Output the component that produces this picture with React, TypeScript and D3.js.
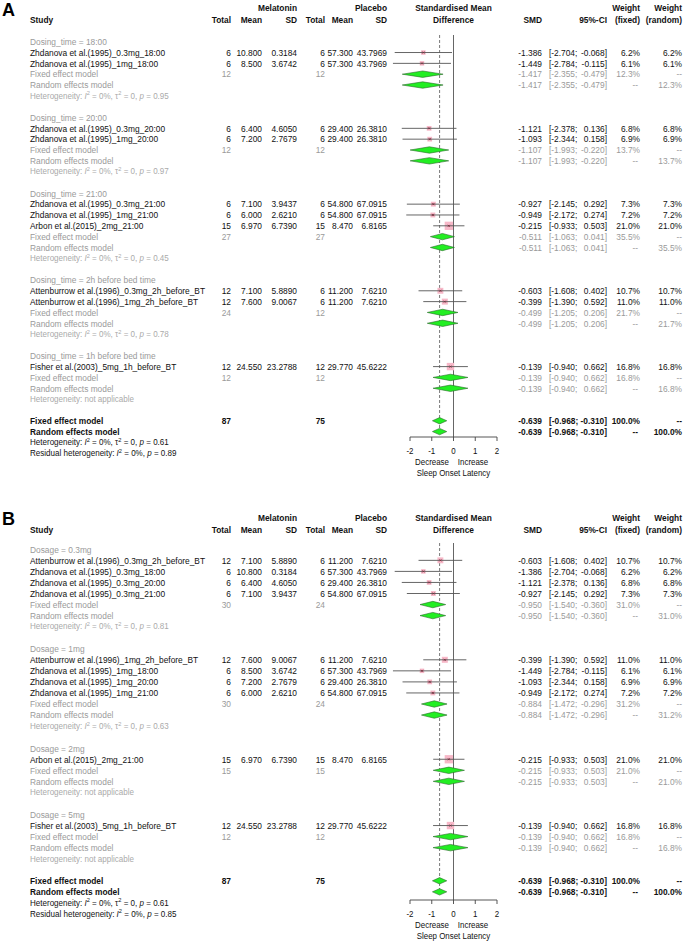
import React from "react";
import * as d3 from "d3";

// ---------- DATA ----------
const studyNames = [
  "Zhdanova et al.(1995)_0.3mg_18:00",
  "Zhdanova et al.(1995)_1mg_18:00",
  "Zhdanova et al.(1995)_0.3mg_20:00",
  "Zhdanova et al.(1995)_1mg_20:00",
  "Zhdanova et al.(1995)_0.3mg_21:00",
  "Zhdanova et al.(1995)_1mg_21:00",
  "Arbon et al.(2015)_2mg_21:00",
  "Attenburrow et al.(1996)_0.3mg_2h_before_BT",
  "Attenburrow et al.(1996)_1mg_2h_before_BT",
  "Fisher et al.(2003)_5mg_1h_before_BT",
];
const melTotal = [6, 6, 6, 6, 6, 6, 15, 12, 12, 12];
const melMean = [10.8, 8.5, 6.4, 7.2, 7.1, 6.0, 6.97, 7.1, 7.6, 24.55];
const melSD = [0.3184, 3.6742, 4.605, 2.7679, 3.9437, 2.621, 6.739, 5.889, 9.0067, 23.2788];
const placTotal = [6, 6, 6, 6, 6, 6, 15, 6, 6, 12];
const placMean = [57.3, 57.3, 29.4, 29.4, 54.8, 54.8, 8.47, 11.2, 11.2, 29.77];
const placSD = [43.7969, 43.7969, 26.381, 26.381, 67.0915, 67.0915, 6.8165, 7.621, 7.621, 45.6222];
const studySmd = [-1.386, -1.449, -1.121, -1.093, -0.927, -0.949, -0.215, -0.603, -0.399, -0.139];
const studyLo = [-2.704, -2.784, -2.378, -2.344, -2.145, -2.172, -0.933, -1.608, -1.39, -0.94];
const studyHi = [-0.068, -0.115, 0.136, 0.158, 0.292, 0.274, 0.503, 0.402, 0.592, 0.662];
const studyWeight = [6.2, 6.1, 6.8, 6.9, 7.3, 7.2, 21.0, 10.7, 11.0, 16.8];

const groupLabelsA = [
  "Dosing_time = 18:00",
  "Dosing_time = 20:00",
  "Dosing_time = 21:00",
  "Dosing_time = 2h before bed time",
  "Dosing_time = 1h before bed time",
];
const groupMembersA = [[0, 1], [2, 3], [4, 5, 6], [7, 8], [9]];
const groupTotalsA = [[12, 12], [12, 12], [27, 27], [24, 12], [12, 12]];
const groupSmdA = [-1.417, -1.107, -0.511, -0.499, -0.139];
const groupLoA = [-2.355, -1.993, -1.063, -1.205, -0.94];
const groupHiA = [-0.479, -0.22, 0.041, 0.206, 0.662];
const groupWeightA = [12.3, 13.7, 35.5, 21.7, 16.8];
const groupHetA = ["0.95", "0.97", "0.45", "0.78", null];

const groupLabelsB = ["Dosage = 0.3mg", "Dosage = 1mg", "Dosage = 2mg", "Dosage = 5mg"];
const groupMembersB = [[7, 0, 2, 4], [8, 1, 3, 5], [6], [9]];
const groupTotalsB = [[30, 24], [30, 24], [15, 15], [12, 12]];
const groupSmdB = [-0.95, -0.884, -0.215, -0.139];
const groupLoB = [-1.54, -1.472, -0.933, -0.94];
const groupHiB = [-0.36, -0.296, 0.503, 0.662];
const groupWeightB = [31.0, 31.2, 21.0, 16.8];
const groupHetB = ["0.81", "0.63", null, null];

const overallTotals = [87, 75];
const overallSmd = -0.639;
const overallLo = -0.968;
const overallHi = -0.31;
const overallHetP = "0.61";
const residualP = { A: "0.89", B: "0.85" };

const axisTicks = [-2, -1, 0, 1, 2];

// ---------- STYLE ----------
const FONT = "Liberation Sans, Arial, sans-serif";
const FS = 9.3;
const SX = 0.9;
const GRAY = "#9a9a9a";
const HETGRAY = "#aaaaaa";
const BLACK = "#111";

const col = {
  study: 30, total: 231, mean: 262, sd: 297, pTotal: 325, pMean: 353, pSD: 387,
  smd: 542, ciL: 549, ciR: 607, wf: 640, wr: 682,
};

const loc = d3.formatLocale({ decimal: ".", thousands: ",", grouping: [3], currency: ["", ""], minus: "-" } as any);
const f3 = loc.format(".3f");
const f4 = loc.format(".4f");
const f1 = (v: number) => loc.format(".1f")(v) + "%";
const fmtMean = (v: number) => f3(v);

function T({ x, y, anchor = "start", bold = false, color = BLACK, size = FS, sx = SX, italic = false, children }: any) {
  return (
    <text
      transform={`translate(${x},${y}) scale(${sx},1)`}
      textAnchor={anchor}
      fontFamily={FONT}
      fontSize={size}
      fontWeight={bold ? "bold" : "normal"}
      fontStyle={italic ? "italic" : "normal"}
      fill={color}
      style={{ whiteSpace: "pre" }}
    >
      {children}
    </text>
  );
}

function Het({ x, y, color, p, residual = false, na = false, size = 8.3 }: any) {
  const sup = { dy: -3.3, fontSize: size * 0.7 };
  if (na) {
    return <T x={x} y={y} color={color} size={size} sx={0.97}>Heterogeneity: not applicable</T>;
  }
  return (
    <T x={x} y={y} color={color} size={size} sx={0.97}>
      {residual ? "Residual heterogeneity: " : "Heterogeneity: "}
      <tspan fontStyle="italic">I</tspan>
      <tspan {...sup}>2</tspan>
      <tspan dy={3.3}>{" = 0%, "}</tspan>
      {!residual && (
        <>
          <tspan>τ</tspan>
          <tspan {...sup}>2</tspan>
          <tspan dy={3.3}>{" = 0, "}</tspan>
        </>
      )}
      <tspan fontStyle="italic">p</tspan>
      <tspan>{" = " + p}</tspan>
    </T>
  );
}

type Row =
  | { kind: "header"; label: string }
  | { kind: "study"; i: number }
  | { kind: "fixed"; g: number }
  | { kind: "random"; g: number }
  | { kind: "het"; g: number }
  | { kind: "blank" }
  | { kind: "ofixed" }
  | { kind: "orandom" }
  | { kind: "ohet" }
  | { kind: "resid" };

function Panel({ letter, letterY, head1, head2, y0, step, axisY, lineTop, labels, members, totals, gSmd, gLo, gHi, gW, gHet, resid }: any) {
  const x = d3.scaleLinear().domain([-2, 2]).range([410, 497]);
  const rows: Row[] = [];
  labels.forEach((lab: string, g: number) => {
    rows.push({ kind: "header", label: lab });
    members[g].forEach((i: number) => rows.push({ kind: "study", i }));
    rows.push({ kind: "fixed", g });
    rows.push({ kind: "random", g });
    rows.push({ kind: "het", g });
    rows.push({ kind: "blank" });
  });
  rows.push({ kind: "ofixed" }, { kind: "orandom" }, { kind: "ohet" }, { kind: "resid" });
  const yc = (k: number) => y0 + k * step;
  const base = (k: number) => yc(k) + 3.3;
  const maxW = d3.max(studyWeight) as number;
  const sq = d3.scaleSqrt().domain([0, maxW]).range([0, 8.3]);
  const dh = 3.2;

  const diamond = (k: number, est: number, lo: number, hi: number, key: string) => {
    const c = yc(k);
    const pts = [[x(lo), c], [x(est), c - dh], [x(hi), c], [x(est), c + dh]];
    return <polygon key={key} points={pts.map((p) => p.join(",")).join(" ")} fill="#22ee22" stroke="#2a6a2a" strokeWidth={0.6} />;
  };

  const els: any[] = [];
  const forest: any[] = [];
  rows.forEach((r, k) => {
    const b = base(k);
    if (r.kind === "header") {
      els.push(<T key={"h" + k} x={col.study} y={b} color={GRAY}>{r.label}</T>);
    } else if (r.kind === "study") {
      const i = r.i;
      els.push(
        <g key={"s" + k}>
          <T x={col.study} y={b}>{studyNames[i]}</T>
          <T x={col.total} y={b} anchor="end">{melTotal[i]}</T>
          <T x={col.mean} y={b} anchor="end">{fmtMean(melMean[i])}</T>
          <T x={col.sd} y={b} anchor="end">{f4(melSD[i])}</T>
          <T x={col.pTotal} y={b} anchor="end">{placTotal[i]}</T>
          <T x={col.pMean} y={b} anchor="end">{fmtMean(placMean[i])}</T>
          <T x={col.pSD} y={b} anchor="end">{f4(placSD[i])}</T>
          <T x={col.smd} y={b} anchor="end">{f3(studySmd[i])}</T>
          <T x={col.ciL} y={b}>{"[" + f3(studyLo[i]) + ";"}</T>
          <T x={col.ciR} y={b} anchor="end">{f3(studyHi[i]) + "]"}</T>
          <T x={col.wf} y={b} anchor="end">{f1(studyWeight[i])}</T>
          <T x={col.wr} y={b} anchor="end">{f1(studyWeight[i])}</T>
        </g>
      );
      const c = yc(k);
      const s = sq(studyWeight[i]);
      forest.push(
        <g key={"f" + k}>
          <rect x={x(studySmd[i]) - s / 2} y={c - s / 2} width={s} height={s} fill="#f7b8c8" />
          <line x1={x(studyLo[i])} x2={x(studyHi[i])} y1={c} y2={c} stroke="#555" strokeWidth={0.9} />
          <path d={`M${x(studySmd[i]) - 1},${c - 1}L${x(studySmd[i]) + 1},${c + 1}M${x(studySmd[i]) - 1},${c + 1}L${x(studySmd[i]) + 1},${c - 1}`} stroke="#7a2a3a" strokeWidth={0.8} />
        </g>
      );
    } else if (r.kind === "fixed" || r.kind === "random") {
      const g = r.g;
      const fixed = r.kind === "fixed";
      els.push(
        <g key={"g" + k}>
          <T x={col.study} y={b} color={GRAY}>{fixed ? "Fixed effect model" : "Random effects model"}</T>
          {fixed && <T x={col.total} y={b} anchor="end" color={GRAY}>{totals[g][0]}</T>}
          {fixed && <T x={col.pTotal} y={b} anchor="end" color={GRAY}>{totals[g][1]}</T>}
          <T x={col.smd} y={b} anchor="end" color={GRAY}>{f3(gSmd[g])}</T>
          <T x={col.ciL} y={b} color={GRAY}>{"[" + f3(gLo[g]) + ";"}</T>
          <T x={col.ciR} y={b} anchor="end" color={GRAY}>{f3(gHi[g]) + "]"}</T>
          <T x={fixed ? col.wf : col.wf - 2} y={b} anchor="end" color={GRAY}>{fixed ? f1(gW[g]) : "--"}</T>
          <T x={col.wr} y={b} anchor="end" color={GRAY}>{fixed ? "--" : f1(gW[g])}</T>
        </g>
      );
      forest.push(diamond(k, gSmd[g], gLo[g], gHi[g], "d" + k));
    } else if (r.kind === "het") {
      const p = gHet[r.g];
      els.push(<Het key={"het" + k} x={col.study} y={b - 0.5} color={HETGRAY} p={p} na={p === null} />);
    } else if (r.kind === "ofixed" || r.kind === "orandom") {
      const fixed = r.kind === "ofixed";
      els.push(
        <g key={"o" + k}>
          <T x={col.study} y={b} bold>{fixed ? "Fixed effect model" : "Random effects model"}</T>
          {fixed && <T x={col.total} y={b} anchor="end" bold>{overallTotals[0]}</T>}
          {fixed && <T x={col.pTotal} y={b} anchor="end" bold>{overallTotals[1]}</T>}
          <T x={col.smd} y={b} anchor="end" bold>{f3(overallSmd)}</T>
          <T x={col.ciL} y={b} bold>{"[" + f3(overallLo) + ";"}</T>
          <T x={col.ciR} y={b} anchor="end" bold>{f3(overallHi) + "]"}</T>
          <T x={fixed ? col.wf : col.wf - 2} y={b} anchor="end" bold>{fixed ? "100.0%" : "--"}</T>
          <T x={col.wr} y={b} anchor="end" bold>{fixed ? "--" : "100.0%"}</T>
        </g>
      );
      forest.push(diamond(k, overallSmd, overallLo, overallHi, "od" + k));
    } else if (r.kind === "ohet") {
      els.push(<Het key="ohet" x={col.study} y={b - 0.5} color={BLACK} p={overallHetP} />);
    } else if (r.kind === "resid") {
      els.push(<Het key="resid" x={col.study} y={b - 0.5} color={BLACK} p={resid} residual />);
    }
  });

  const hb1 = head1 + 3.3;
  const hb2 = head2 + 3.3;
  const lastDiamond = yc(rows.length - 3);

  return (
    <g>
      <T x={2} y={letterY} bold size={18} sx={1} color="#000">{letter}</T>
      <T x={col.study} y={hb2} bold>Study</T>
      <T x={col.sd} y={hb1} anchor="end" bold>Melatonin</T>
      <T x={col.total} y={hb2} anchor="end" bold>Total</T>
      <T x={col.mean} y={hb2} anchor="end" bold>Mean</T>
      <T x={col.sd} y={hb2} anchor="end" bold>SD</T>
      <T x={col.pSD} y={hb1} anchor="end" bold>Placebo</T>
      <T x={col.pTotal} y={hb2} anchor="end" bold>Total</T>
      <T x={col.pMean} y={hb2} anchor="end" bold>Mean</T>
      <T x={col.pSD} y={hb2} anchor="end" bold>SD</T>
      <T x={453.5} y={hb1} anchor="middle" bold>Standardised Mean</T>
      <T x={453.5} y={hb2} anchor="middle" bold>Difference</T>
      <T x={col.smd} y={hb2} anchor="end" bold>SMD</T>
      <T x={col.ciR} y={hb2} anchor="end" bold>95%-CI</T>
      <T x={col.wf} y={hb1} anchor="end" bold>Weight</T>
      <T x={col.wf} y={hb2} anchor="end" bold>(fixed)</T>
      <T x={col.wr} y={hb1} anchor="end" bold>Weight</T>
      <T x={col.wr} y={hb2} anchor="end" bold>(random)</T>

      {/* reference lines */}
      <line x1={x(0)} x2={x(0)} y1={lineTop} y2={axisY} stroke="#555" strokeWidth={0.9} />
      <line x1={x(overallSmd)} x2={x(overallSmd)} y1={lineTop} y2={lastDiamond + 2} stroke="#555" strokeWidth={0.8} strokeDasharray="3,2" />

      {forest}
      {els}

      {/* axis */}
      <line x1={x(-2)} x2={x(2)} y1={axisY} y2={axisY} stroke="#444" strokeWidth={0.9} />
      {axisTicks.map((t) => (
        <g key={"t" + t}>
          <line x1={x(t)} x2={x(t)} y1={axisY} y2={axisY + 4} stroke="#444" strokeWidth={0.9} />
          <T x={x(t)} y={axisY + 17} anchor="middle" size={8.8}>{f3(t).replace(".000", "")}</T>
        </g>
      ))}
      <T x={432} y={axisY + 28} anchor="middle" size={8.8}>Decrease</T>
      <T x={473} y={axisY + 28} anchor="middle" size={8.8}>Increase</T>
      <T x={453.5} y={axisY + 38.5} anchor="middle" size={8.8}>Sleep Onset Latency</T>
    </g>
  );
}

export default function App() {
  return (
    <div style={{ position: "absolute", left: 0, top: 0, width: 685, height: 942, background: "#fff" }}>
      <svg width={685} height={942} viewBox="0 0 685 942" style={{ display: "block" }}>
        <rect width={685} height={942} fill="#fff" />
        <Panel
          letter="A" letterY={15.5} head1={8} head2={20} y0={41.7} step={10.83} axisY={437} lineTop={35}
          labels={groupLabelsA} members={groupMembersA} totals={groupTotalsA}
          gSmd={groupSmdA} gLo={groupLoA} gHi={groupHiA} gW={groupWeightA} gHet={groupHetA} resid={residualP.A}
        />
        <Panel
          letter="B" letterY={524.5} head1={518} head2={529.5} y0={549.3} step={11.05} axisY={900} lineTop={543}
          labels={groupLabelsB} members={groupMembersB} totals={groupTotalsB}
          gSmd={groupSmdB} gLo={groupLoB} gHi={groupHiB} gW={groupWeightB} gHet={groupHetB} resid={residualP.B}
        />
      </svg>
    </div>
  );
}
